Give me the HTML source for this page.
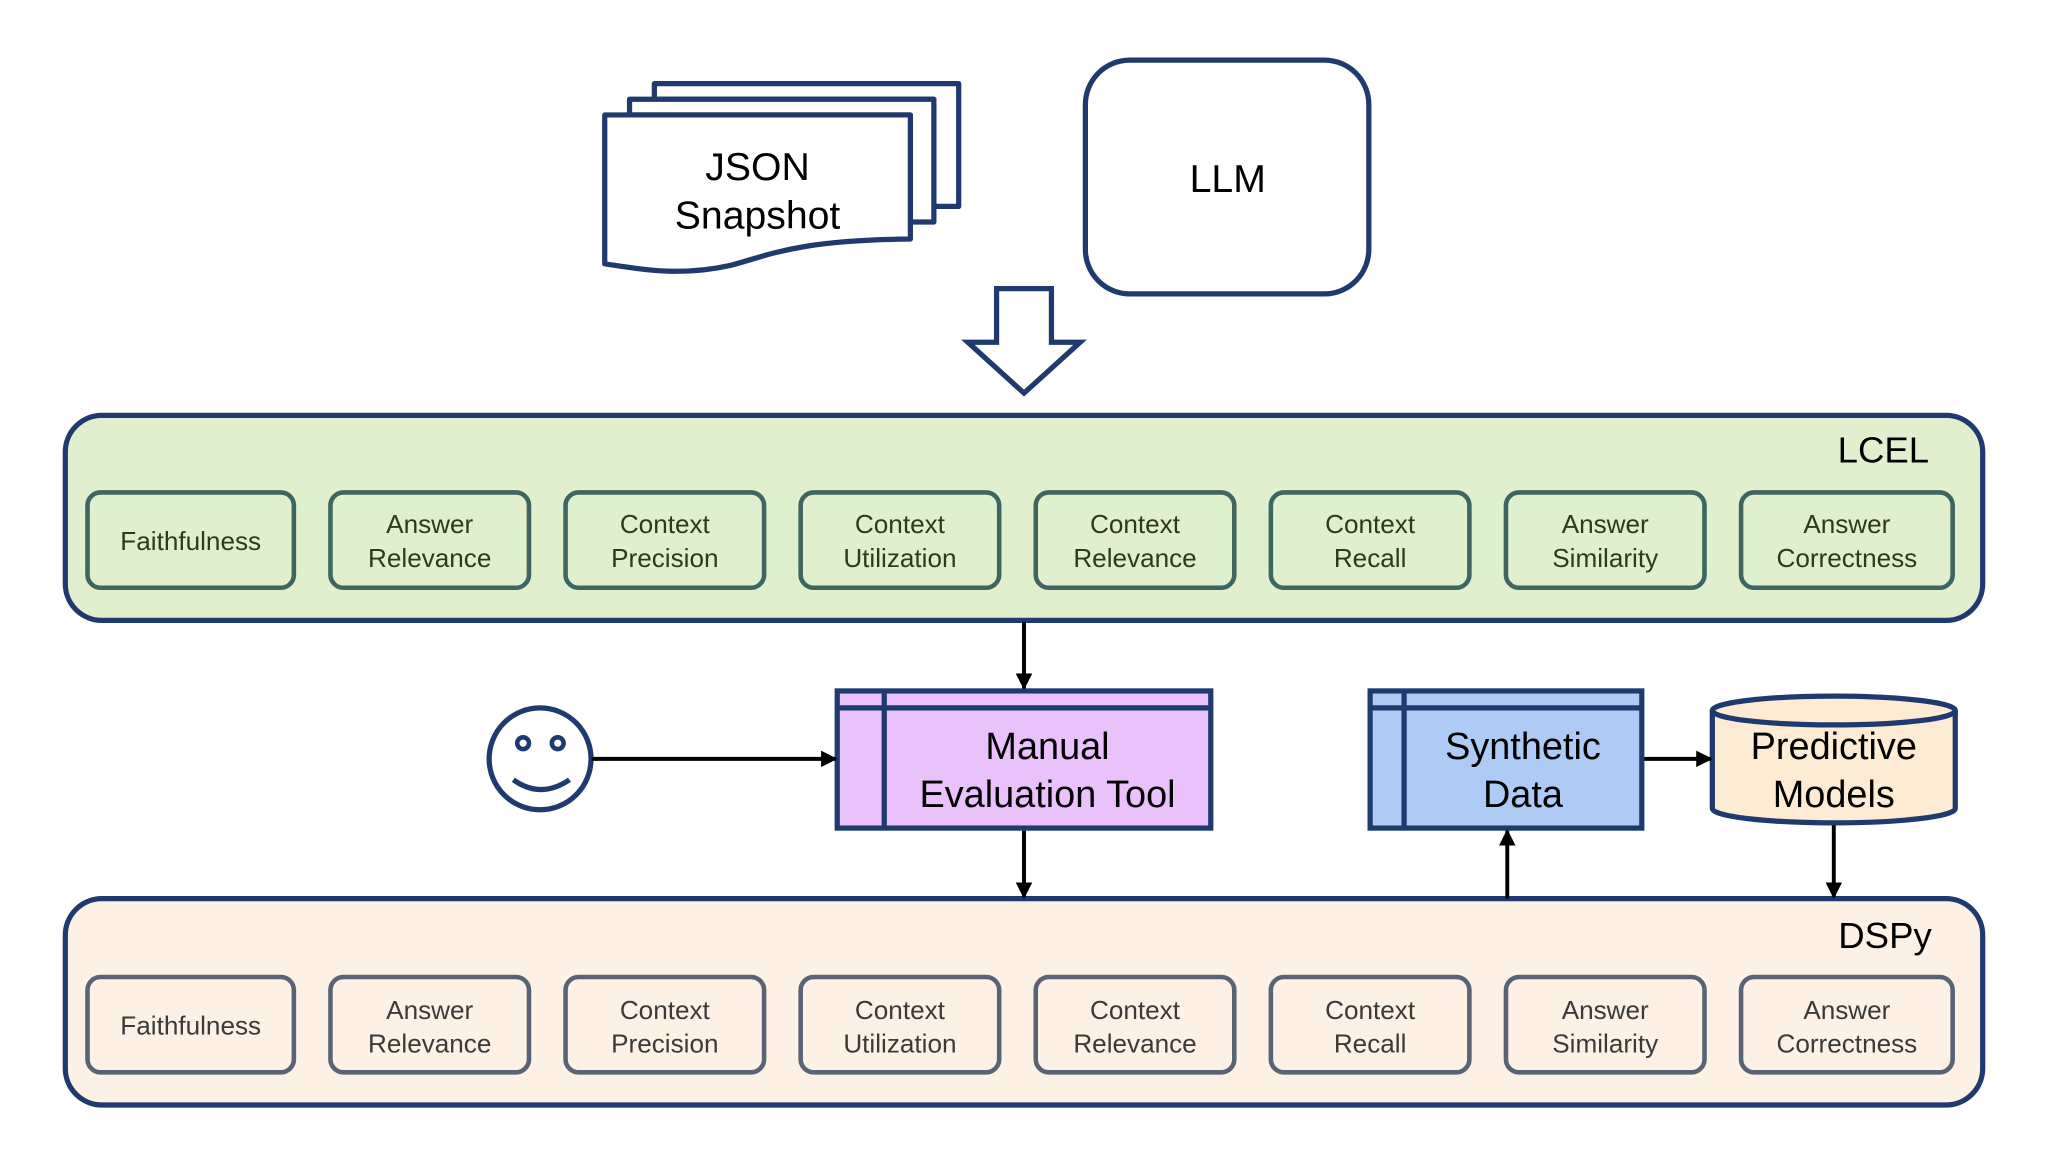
<!DOCTYPE html>
<html><head><meta charset="utf-8"><style>html,body{margin:0;padding:0;background:#fff}svg{display:block}</style></head><body>
<svg width="2048" height="1152" viewBox="0 0 1568 882" xmlns="http://www.w3.org/2000/svg" font-family="Liberation Sans, sans-serif">
<defs>
<marker id="ah" viewBox="0 0 10 10" refX="9" refY="5" markerWidth="4.2" markerHeight="4.2" orient="auto"><path d="M0,0 L10,5 L0,10 z" fill="#000"/></marker>
</defs>
<rect width="1568" height="882" fill="#fff"/>
<!-- JSON stack -->
<g stroke="#1e3a6e" stroke-width="4" fill="#fff" stroke-linejoin="round">
<path d="M501,64 H734 V158 H715 V76 H501 Z"/>
<path d="M482,76 H715 V170 H697 V88 H482 Z"/>
<path d="M463,88 H697 V183 C610,184 590,195 560,203 C520,212 490,206 463,202 Z"/>
</g>
<text x="580" y="138" font-size="30" text-anchor="middle">JSON</text>
<text x="580" y="175" font-size="30" text-anchor="middle">Snapshot</text>
<!-- LLM -->
<rect x="831" y="46" width="217" height="179" rx="34" fill="#fff" stroke="#1e3a6e" stroke-width="4"/>
<text x="940" y="147" font-size="30" text-anchor="middle">LLM</text>
<!-- hollow arrow -->
<path d="M763,221 H805 V262 H827 L784,301 L741,262 H763 Z" fill="#fff" stroke="#1e3a6e" stroke-width="4" stroke-linejoin="miter"/>
<!-- LCEL -->
<rect x="50" y="318" width="1468" height="157" rx="28" fill="#e0f0cf" stroke="#1e3a6e" stroke-width="4"/>
<text x="1477" y="354" font-size="28" text-anchor="end">LCEL</text>
<g fill="none" stroke="#3f6560" stroke-width="3.5">
<rect x="67" y="377" width="158" height="73" rx="10"/><rect x="253" y="377" width="152" height="73" rx="10"/>
<rect x="433" y="377" width="152" height="73" rx="10"/><rect x="613" y="377" width="152" height="73" rx="10"/>
<rect x="793" y="377" width="152" height="73" rx="10"/><rect x="973" y="377" width="152" height="73" rx="10"/>
<rect x="1153" y="377" width="152" height="73" rx="10"/><rect x="1333" y="377" width="162" height="73" rx="10"/>
</g>
<g font-size="20" fill="#2c3a1e" text-anchor="middle">
<text x="146" y="421">Faithfulness</text>
<text x="329" y="408">Answer</text><text x="329" y="434">Relevance</text>
<text x="509" y="408">Context</text><text x="509" y="434">Precision</text>
<text x="689" y="408">Context</text><text x="689" y="434">Utilization</text>
<text x="869" y="408">Context</text><text x="869" y="434">Relevance</text>
<text x="1049" y="408">Context</text><text x="1049" y="434">Recall</text>
<text x="1229" y="408">Answer</text><text x="1229" y="434">Similarity</text>
<text x="1414" y="408">Answer</text><text x="1414" y="434">Correctness</text>
</g>
<!-- DSPy -->
<rect x="50" y="688" width="1468" height="158" rx="28" fill="#fdf1e5" stroke="#1e3a6e" stroke-width="4"/>
<text x="1479" y="726" font-size="28" text-anchor="end">DSPy</text>
<g fill="none" stroke="#5a6275" stroke-width="3.5">
<rect x="67" y="748" width="158" height="73" rx="10"/><rect x="253" y="748" width="152" height="73" rx="10"/>
<rect x="433" y="748" width="152" height="73" rx="10"/><rect x="613" y="748" width="152" height="73" rx="10"/>
<rect x="793" y="748" width="152" height="73" rx="10"/><rect x="973" y="748" width="152" height="73" rx="10"/>
<rect x="1153" y="748" width="152" height="73" rx="10"/><rect x="1333" y="748" width="162" height="73" rx="10"/>
</g>
<g font-size="20" fill="#3a3a3a" text-anchor="middle">
<text x="146" y="792">Faithfulness</text>
<text x="329" y="780">Answer</text><text x="329" y="806">Relevance</text>
<text x="509" y="780">Context</text><text x="509" y="806">Precision</text>
<text x="689" y="780">Context</text><text x="689" y="806">Utilization</text>
<text x="869" y="780">Context</text><text x="869" y="806">Relevance</text>
<text x="1049" y="780">Context</text><text x="1049" y="806">Recall</text>
<text x="1229" y="780">Answer</text><text x="1229" y="806">Similarity</text>
<text x="1414" y="780">Answer</text><text x="1414" y="806">Correctness</text>
</g>
<!-- Manual Evaluation Tool -->
<rect x="641" y="529" width="286" height="105" fill="#e9c2fb" stroke="#1e3a6e" stroke-width="4"/>
<line x1="677" y1="529" x2="677" y2="634" stroke="#1e3a6e" stroke-width="4"/>
<line x1="641" y1="542" x2="927" y2="542" stroke="#1e3a6e" stroke-width="4"/>
<text x="802" y="581" font-size="29" text-anchor="middle">Manual</text>
<text x="802" y="618" font-size="29" text-anchor="middle">Evaluation Tool</text>
<!-- Synthetic Data -->
<rect x="1049" y="529" width="208" height="105" fill="#aecbf6" stroke="#1e3a6e" stroke-width="4"/>
<line x1="1075" y1="529" x2="1075" y2="634" stroke="#1e3a6e" stroke-width="4"/>
<line x1="1049" y1="542" x2="1257" y2="542" stroke="#1e3a6e" stroke-width="4"/>
<text x="1166" y="581" font-size="29" text-anchor="middle">Synthetic</text>
<text x="1166" y="618" font-size="29" text-anchor="middle">Data</text>
<!-- Cylinder -->
<path d="M1311,544 V619 A93,11 0 0 0 1497,619 V544" fill="#fdebd3" stroke="#1e3a6e" stroke-width="4"/>
<ellipse cx="1404" cy="544" rx="93" ry="11" fill="#fdebd3" stroke="#1e3a6e" stroke-width="4"/>
<text x="1404" y="581" font-size="29" text-anchor="middle">Predictive</text>
<text x="1404" y="618" font-size="29" text-anchor="middle">Models</text>
<!-- Smiley -->
<g fill="none" stroke="#1e3a6e" stroke-width="4">
<circle cx="413.5" cy="581" r="39"/>
<circle cx="400.5" cy="569" r="4.5" stroke-width="3.5"/>
<circle cx="427" cy="569" r="4.5" stroke-width="3.5"/>
<path d="M393,597 Q414,612 436,597"/>
</g>
<!-- connectors -->
<g stroke="#000" stroke-width="3" fill="none" marker-end="url(#ah)">
<line x1="784" y1="476" x2="784" y2="527"/>
<line x1="453" y1="581" x2="640" y2="581"/>
<line x1="784" y1="636" x2="784" y2="687"/>
<line x1="1154" y1="688" x2="1154" y2="636"/>
<line x1="1259" y1="581" x2="1310" y2="581"/>
<line x1="1404" y1="632" x2="1404" y2="687"/>
</g>
</svg>
</body></html>
